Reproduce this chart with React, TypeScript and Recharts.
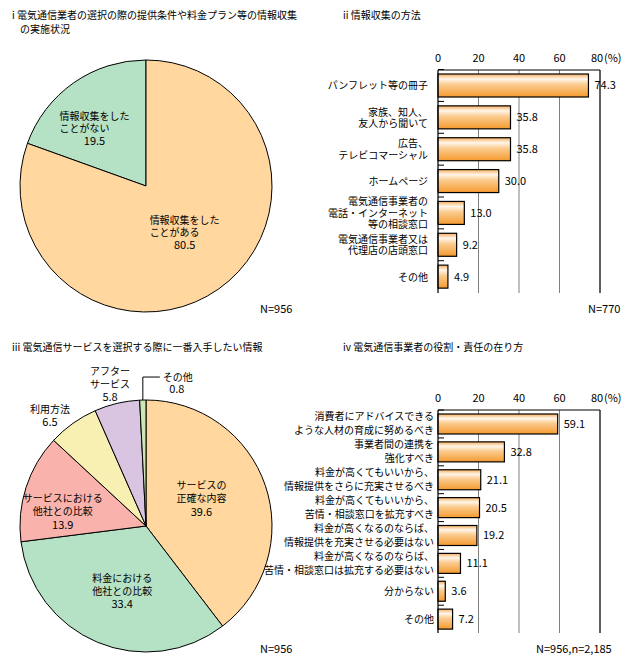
import React from "react";
import {
  PieChart,
  Pie,
  Cell,
  BarChart,
  Bar,
  XAxis,
  YAxis,
  CartesianGrid,
  ReferenceLine,
  LabelList,
} from "recharts";

const FONT = '"Noto Sans CJK JP", "Noto Sans", sans-serif';

// i 情報収集の実施状況
const collectNames = ["情報収集をした\nことがない", "情報収集をした\nことがある"];
const collectValues = [19.5, 80.5];
const collectColors = ["#B5E1C4", "#FFD79F"];

// ii 情報収集の方法
const methodNames = [
  "パンフレット等の冊子",
  "家族、知人、\n友人から聞いて",
  "広告、\nテレビコマーシャル",
  "ホームページ",
  "電気通信事業者の\n電話・インターネット\n等の相談窓口",
  "電気通信事業者又は\n代理店の店頭窓口",
  "その他",
];
const methodValues = [74.3, 35.8, 35.8, 30.0, 13.0, 9.2, 4.9];

// iii 一番入手したい情報
const wantNames = [
  "サービスの\n正確な内容",
  "料金における\n他社との比較",
  "サービスにおける\n他社との比較",
  "利用方法",
  "アフター\nサービス",
  "その他",
];
const wantValues = [39.6, 33.4, 13.9, 6.5, 5.8, 0.8];
const wantColors = ["#FFD79F", "#B5E1C4", "#F9B3AC", "#F8F0B2", "#D9C5E1", "#C9E8B3"];

// iv 電気通信事業者の役割・責任の在り方
const roleNames = [
  "消費者にアドバイスできる\nような人材の育成に努めるべき",
  "事業者間の連携を\n強化すべき",
  "料金が高くてもいいから、\n情報提供をさらに充実させるべき",
  "料金が高くてもいいから、\n苦情・相談窓口を拡充すべき",
  "料金が高くなるのならば、\n情報提供を充実させる必要はない",
  "料金が高くなるのならば、\n苦情・相談窓口は拡充する必要はない",
  "分からない",
  "その他",
];
const roleValues = [59.1, 32.8, 21.1, 20.5, 19.2, 11.1, 3.6, 7.2];

const xTicks = [0, 20, 40, 60, 80];

// label placement: [radius factor, angle shift]
const collectLabelPos = [
  [0.61, 7],
  [0.48, 4.6],
];
const wantLabelPos = [
  [0.49, 7.4],
  [0.55, 2.6],
  [0.67, 8.2],
  [1.16, 5.6],
  [1.16, 0.9],
  [1.0, 0],
];

const RADIAN = Math.PI / 180;

const makePieLabel =
  (names: string[], values: number[], pos: number[][], lh: number, leftAlign: boolean) =>
  (props: any) => {
    const { cx, cy, midAngle, outerRadius, index } = props;
    const [rf, shift] = pos[index];
    const lines = names[index].split("\n");
    const valueText = values[index].toFixed(1);

    // tiny slice gets a leader line
    if (rf === 1.0) {
      const ex = cx + outerRadius * Math.cos(-midAngle * RADIAN);
      const ey = cy + outerRadius * Math.sin(-midAngle * RADIAN);
      const ly = ey - 23;
      return (
        <g>
          <polyline
            points={`${ex},${ey} ${ex},${ly} ${ex + 17},${ly}`}
            fill="none"
            stroke="#000"
          />
          <text fontFamily={FONT} fill="#000">
            <tspan x={ex + 20} y={ly} dy="0.35em" fontSize={10}>
              {lines[0]}
            </tspan>
            <tspan x={ex + 34} y={ly + 12} dy="0.35em" textAnchor="middle" fontSize={11}>
              {valueText}
            </tspan>
          </text>
        </g>
      );
    }

    const a = midAngle + shift;
    const r = outerRadius * rf;
    const x = cx + r * Math.cos(-a * RADIAN);
    const y = cy + r * Math.sin(-a * RADIAN);
    const n = lines.length + 1;
    const y0 = y - ((n - 1) * lh) / 2;
    const blockW = Math.max(...lines.map((l) => l.length)) * 10;
    const lx = leftAlign ? x - blockW / 2 : x;

    return (
      <text fontFamily={FONT} fill="#000">
        {lines.map((l, i) => (
          <tspan
            key={i}
            x={lx}
            y={y0 + i * lh}
            dy="0.35em"
            textAnchor={leftAlign ? "start" : "middle"}
            fontSize={10}
          >
            {l}
          </tspan>
        ))}
        <tspan x={x} y={y0 + lines.length * lh} dy="0.35em" textAnchor="middle" fontSize={11}>
          {valueText}
        </tspan>
      </text>
    );
  };

const CatTick = (props: any) => {
  const { x, y, payload, lh } = props;
  const lines = String(payload.value).split("\n");
  const y0 = y - ((lines.length - 1) * lh) / 2;
  return (
    <text textAnchor="end" fontSize={10} fontFamily={FONT} fill="#000">
      {lines.map((l: string, i: number) => (
        <tspan key={i} x={x} y={y0 + i * lh} dy="0.35em">
          {l}
        </tspan>
      ))}
    </text>
  );
};

const PctTick = (props: any) => {
  const { x, y, payload } = props;
  const last = payload.value === 80;
  return (
    <g>
      <text
        x={last ? x - 3 : x}
        y={y}
        textAnchor="middle"
        fontSize={11}
        fontFamily={FONT}
        fill="#000"
      >
        {payload.value}
      </text>
      {last && (
        <text x={x + 4} y={y} textAnchor="start" fontSize={11} fontFamily={FONT} fill="#000">
          (%)
        </text>
      )}
    </g>
  );
};

const makeBarShape = (gap: number, gradId: string) => (props: any) => {
  const { x, y, width, height } = props;
  return (
    <g>
      <line x1={x} x2={x + 6} y1={y - gap} y2={y - gap} stroke="#000" />
      <rect
        x={x}
        y={y}
        width={width}
        height={height}
        fill={`url(#${gradId})`}
        stroke="#000"
        strokeWidth={1.2}
      />
    </g>
  );
};

const Grad = ({ id }: { id: string }) => (
  <defs>
    <linearGradient id={id} x1="0" y1="0" x2="0" y2="1">
      <stop offset="0%" stopColor="#F6AE5C" />
      <stop offset="22%" stopColor="#FFF6EA" />
      <stop offset="45%" stopColor="#FBCD92" />
      <stop offset="100%" stopColor="#F59A2E" />
    </linearGradient>
  </defs>
);

const txt: React.CSSProperties = {
  position: "absolute",
  fontFamily: FONT,
  fontSize: 10,
  lineHeight: "14px",
  color: "#000",
  whiteSpace: "nowrap",
};

const NO_MARGIN = { top: 0, right: 0, bottom: 0, left: 0 };

export default function App() {
  const collectData = collectNames.map((name, i) => ({ name, value: collectValues[i] }));
  const wantData = wantNames.map((name, i) => ({ name, value: wantValues[i] }));
  const methodData = methodNames.map((name, i) => ({ name, value: methodValues[i] }));
  const roleData = roleNames.map((name, i) => ({ name, value: roleValues[i] }));

  return (
    <div
      style={{
        position: "absolute",
        left: 0,
        top: 0,
        width: 635,
        height: 664,
        background: "#fff",
        overflow: "hidden",
      }}
    >
      {/* i */}
      <div style={{ ...txt, left: 12, top: 8 }}>i 電気通信業者の選択の際の提供条件や料金プラン等の情報収集</div>
      <div style={{ ...txt, left: 20, top: 22 }}>の実施状況</div>
      <div style={{ position: "absolute", left: 0, top: 0 }}>
        <PieChart width={300} height={330} margin={NO_MARGIN}>
          <Pie
            data={collectData}
            dataKey="value"
            nameKey="name"
            cx={146}
            cy={186}
            outerRadius={126}
            startAngle={90}
            endAngle={450}
            stroke="#000"
            strokeWidth={1}
            labelLine={false}
            label={makePieLabel(collectNames, collectValues, collectLabelPos, 12.5, true)}
            isAnimationActive={false}
          >
            {collectData.map((d, i) => (
              <Cell key={d.name} fill={collectColors[i]} />
            ))}
          </Pie>
        </PieChart>
      </div>
      <div style={{ ...txt, left: 260, top: 301, fontSize: 11 }}>N=956</div>

      {/* ii */}
      <div style={{ ...txt, left: 343, top: 8 }}>ii 情報収集の方法</div>
      <div style={{ position: "absolute", left: 320, top: 0 }}>
        <BarChart
          width={315}
          height={330}
          layout="vertical"
          data={methodData}
          margin={{ top: 40, right: 35, bottom: 37, left: 0 }}
          barSize={23}
        >
          <Grad id="gradA" />
          <CartesianGrid horizontal={false} vertical stroke="#808080" />
          <XAxis
            type="number"
            orientation="top"
            domain={[0, 80]}
            ticks={xTicks}
            interval={0}
            height={30}
            axisLine={{ stroke: "#000" }}
            tickLine={false}
            tickSize={0}
            tickMargin={8}
            tick={PctTick}
          />
          <YAxis
            type="category"
            dataKey="name"
            width={118}
            axisLine={{ stroke: "#000" }}
            tickLine={false}
            tickSize={0}
            tickMargin={10}
            interval={0}
            tick={(p: any) => <CatTick {...p} lh={11.5} />}
          />
          <ReferenceLine x={80} stroke="#000" />
          <Bar
            dataKey="value"
            isAnimationActive={false}
            shape={makeBarShape((223 / 7 - 23) / 2, "gradA")}
          >
            <LabelList
              dataKey="value"
              position="right"
              offset={6}
              formatter={(v: any) => Number(v).toFixed(1)}
              style={{ fontSize: 11, fontFamily: FONT, fill: "#000" }}
            />
          </Bar>
        </BarChart>
      </div>
      <div style={{ ...txt, left: 588, top: 301, fontSize: 11 }}>N=770</div>

      {/* iii */}
      <div style={{ ...txt, left: 12, top: 340 }}>iii 電気通信サービスを選択する際に一番入手したい情報</div>
      <div style={{ position: "absolute", left: 0, top: 330 }}>
        <PieChart width={300} height={334} margin={NO_MARGIN}>
          <Pie
            data={wantData}
            dataKey="value"
            nameKey="name"
            cx={146}
            cy={196}
            outerRadius={126}
            startAngle={90}
            endAngle={-270}
            stroke="#000"
            strokeWidth={1}
            labelLine={false}
            label={makePieLabel(wantNames, wantValues, wantLabelPos, 13, false)}
            isAnimationActive={false}
          >
            {wantData.map((d, i) => (
              <Cell key={d.name} fill={wantColors[i]} />
            ))}
          </Pie>
        </PieChart>
      </div>
      <div style={{ ...txt, left: 260, top: 641, fontSize: 11 }}>N=956</div>

      {/* iv */}
      <div style={{ ...txt, left: 343, top: 340 }}>iv 電気通信事業者の役割・責任の在り方</div>
      <div style={{ position: "absolute", left: 250, top: 330 }}>
        <BarChart
          width={385}
          height={334}
          layout="vertical"
          data={roleData}
          margin={{ top: 50, right: 35, bottom: 31, left: 0 }}
          barSize={20}
        >
          <Grad id="gradB" />
          <CartesianGrid horizontal={false} vertical stroke="#808080" />
          <XAxis
            type="number"
            orientation="top"
            domain={[0, 80]}
            ticks={xTicks}
            interval={0}
            height={30}
            axisLine={{ stroke: "#000" }}
            tickLine={false}
            tickSize={0}
            tickMargin={8}
            tick={PctTick}
          />
          <YAxis
            type="category"
            dataKey="name"
            width={188}
            axisLine={{ stroke: "#000" }}
            tickLine={false}
            tickSize={0}
            tickMargin={4}
            interval={0}
            tick={(p: any) => <CatTick {...p} lh={14} />}
          />
          <ReferenceLine x={80} stroke="#000" />
          <Bar
            dataKey="value"
            isAnimationActive={false}
            shape={makeBarShape((223 / 8 - 20) / 2, "gradB")}
          >
            <LabelList
              dataKey="value"
              position="right"
              offset={6}
              formatter={(v: any) => Number(v).toFixed(1)}
              style={{ fontSize: 11, fontFamily: FONT, fill: "#000" }}
            />
          </Bar>
        </BarChart>
      </div>
      <div style={{ ...txt, left: 536, top: 641, fontSize: 11 }}>N=956,n=2,185</div>
    </div>
  );
}
